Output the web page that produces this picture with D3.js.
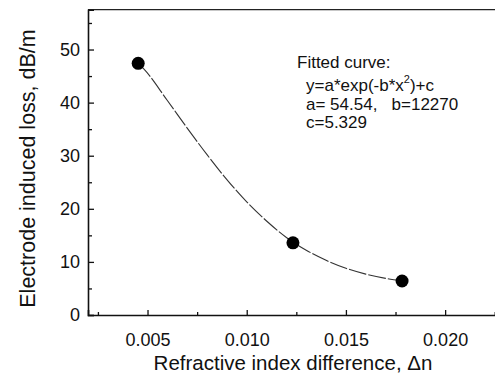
<!DOCTYPE html>
<html>
<head>
<meta charset="utf-8">
<script src="https://cdn.jsdelivr.net/npm/d3@7"></script>
<style>
  html, body { margin: 0; padding: 0; background: #fff; }
  svg { display: block; font-family: "Liberation Sans", Arial, sans-serif; }
</style>
</head>
<body>
<svg id="chart" width="495" height="373"></svg>
<script>
// Measured data points (Δn, loss dB/m)
const pointX = [0.00453, 0.01233, 0.01783];
const pointY = [47.4, 13.6, 6.4];

// Fitted curve
const curveX = [0.00453, 0.0048, 0.006, 0.007, 0.008, 0.009, 0.010, 0.011, 0.012, 0.013, 0.014, 0.015, 0.016, 0.017, 0.01783];
const curveY = [47.4, 46.4, 40.4, 35.2, 30.2, 25.5, 21.3, 17.7, 14.6, 12.2, 10.3, 8.8, 7.7, 6.9, 6.4];

// Tick labels
const xMajorTicks = [0.005, 0.010, 0.015, 0.020];
const xMinorTicks = [0.0025, 0.0075, 0.0125, 0.0175, 0.0225];
const yMajorTicks = [0, 10, 20, 30, 40, 50];
const yMinorTicks = [5, 15, 25, 35, 45, 55];

const annotationLines = ["y=a*exp(-b*x", ")+c"];

(function () {
const svg = d3.select("#chart");
const mLeft = 88, mBottom = 315, mTop = 9.7;
const x = d3.scaleLinear().domain([0.002, 0.0235]).range([mLeft, mLeft + 0.0215 * 19840]);
const y = d3.scaleLinear().domain([0, 57.5]).range([mBottom, mTop]);

// frame top line
svg.append("line")
  .attr("x1", mLeft).attr("x2", 500).attr("y1", y(57.5)).attr("y2", y(57.5))
  .attr("stroke", "#222").attr("stroke-width", 1.2);

// X axis
svg.append("g").attr("transform", `translate(0,${mBottom})`)
  .call(d3.axisBottom(x).tickValues(xMajorTicks).tickSize(-5).tickPadding(18.5)
    .tickFormat(d3.format(".3f")));
svg.append("g").attr("transform", `translate(0,${mBottom})`)
  .call(d3.axisBottom(x).tickValues(xMinorTicks).tickSize(-3).tickFormat(""))
  .select(".domain").remove();

// Y axis
svg.append("g").attr("transform", `translate(${mLeft},0)`)
  .call(d3.axisLeft(y).tickValues(yMajorTicks).tickSize(-6).tickPadding(8)
    .tickFormat(d3.format("d")));
svg.append("g").attr("transform", `translate(${mLeft},0)`)
  .call(d3.axisLeft(y).tickValues(yMinorTicks).tickSize(-4).tickFormat(""))
  .select(".domain").remove();

svg.selectAll(".domain").attr("stroke", "#111").attr("stroke-width", 1.6);
svg.selectAll(".tick line").attr("stroke", "#111").attr("stroke-width", 1.3);
svg.selectAll(".tick text").attr("fill", "#111").style("font-size", "18px")
  .style("font-family", "'Liberation Sans', Arial, sans-serif");

// Axis titles
svg.append("text")
  .attr("x", 293).attr("y", 370)
  .attr("text-anchor", "middle")
  .style("font-size", "20.5px").attr("fill", "#111")
  .text("Refractive index difference, \u0394n");

svg.append("text")
  .attr("transform", `translate(35,168.5) rotate(-90)`)
  .attr("text-anchor", "middle")
  .style("font-size", "21.5px").attr("fill", "#111")
  .text("Electrode induced loss, dB/m");

// Curve
const line = d3.line().x(d => x(d[0])).y(d => y(d[1])).curve(d3.curveMonotoneX);
svg.append("path")
  .datum(curveX.map((v, i) => [v, curveY[i]]))
  .attr("d", line)
  .attr("fill", "none").attr("stroke", "#333").attr("stroke-width", 1.1)
  .attr("stroke-dasharray", "18,2");

// Points
svg.selectAll("circle.pt")
  .data(pointX.map((v, i) => [v, pointY[i]]))
  .enter().append("circle")
  .attr("class", "pt")
  .attr("cx", d => x(d[0])).attr("cy", d => y(d[1]))
  .attr("r", 6.5).attr("fill", "#000");

// Annotation
const ann = svg.append("g").attr("fill", "#111").style("font-size", "17px");
ann.append("text").attr("x", 297).attr("y", 68).text("Fitted curve:");
const l2 = ann.append("text").attr("x", 306).attr("y", 91);
l2.append("tspan").text(annotationLines[0]);
l2.append("tspan").attr("dy", -8).style("font-size", "11px").text("2");
l2.append("tspan").attr("dy", 8).text(annotationLines[1]);
ann.append("text").attr("x", 306).attr("y", 110).attr("xml:space", "preserve")
  .text("a= 54.54,   b=12270");
ann.append("text").attr("x", 306).attr("y", 128).text("c=5.329");
})();
</script>
</body>
</html>
